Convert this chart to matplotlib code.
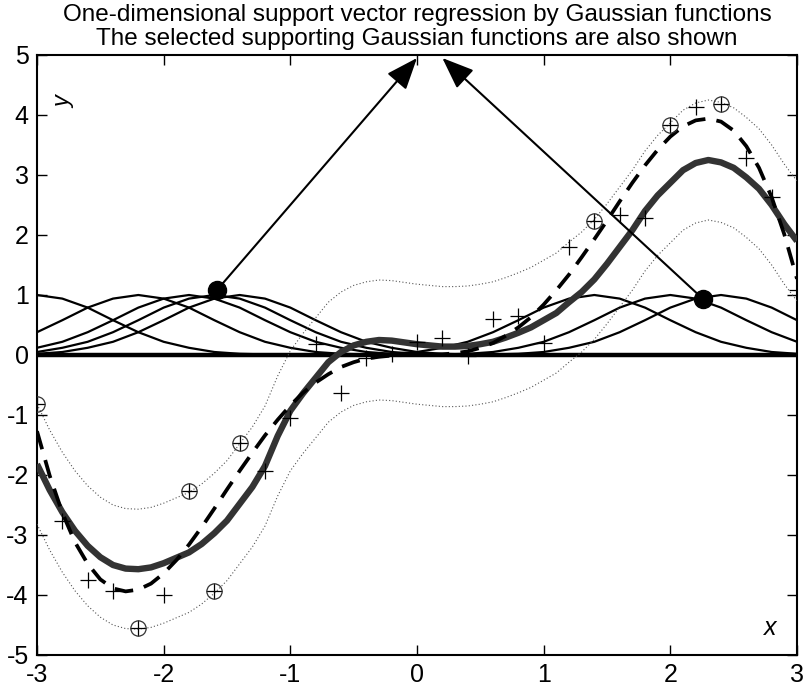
import numpy as np
import matplotlib
matplotlib.use("Agg")
import matplotlib.pyplot as plt

plt.rcParams['font.family'] = ['Liberation Sans', 'DejaVu Sans']
plt.rcParams['axes.unicode_minus'] = False

# sample grid used by the data points and the Gaussian curves
x_data = [-3.0, -2.8, -2.6, -2.4, -2.2, -2.0, -1.8, -1.6, -1.4, -1.2, -1.0,
          -0.8, -0.6, -0.4, -0.2, 0.0, 0.2, 0.4, 0.6, 0.8, 1.0,
          1.2, 1.4, 1.6, 1.8, 2.0, 2.2, 2.4, 2.6, 2.8, 3.0]
y_data = [-0.82, -2.76, -3.75, -3.94, -4.55, -4.00, -2.27, -3.94, -1.47, -1.93, -1.05,
          0.18, -0.64, -0.05, 0.02, 0.21, 0.29, -0.01, 0.60, 0.65, 0.20,
          1.80, 2.23, 2.33, 2.28, 3.84, 4.14, 4.19, 3.28, 2.64, 1.08]

# support vectors = centres of the selected Gaussians
sv_x = [-3.0, -2.2, -1.8, -1.6, -1.4, 1.4, 2.0, 2.4]
sv_y = [-0.82, -4.55, -2.27, -3.94, -1.47, 2.23, 3.84, 4.19]

# Gaussian profile read at offsets 0, 0.2, 0.4, ... from the centre
gauss_profile = [1.0, 0.94, 0.79, 0.58, 0.38, 0.22, 0.12, 0.05, 0.02, 0.01, 0.0]

# fine grid for the curves
x_fine = [round(-3.0 + 0.1 * i, 1) for i in range(61)]
y_true = [-1.27, -2.01, -2.63, -3.12, -3.48, -3.74, -3.89, -3.94, -3.91, -3.81,
          -3.64, -3.42, -3.16, -2.87, -2.56, -2.24, -1.93, -1.63, -1.34, -1.08,
          -0.84, -0.63, -0.46, -0.32, -0.20, -0.12, -0.06, -0.03, -0.01, 0.00,
          0.00, 0.00, 0.01, 0.03, 0.06, 0.12, 0.20, 0.32, 0.46, 0.63,
          0.84, 1.08, 1.34, 1.63, 1.93, 2.24, 2.56, 2.87, 3.16, 3.42,
          3.64, 3.81, 3.91, 3.94, 3.89, 3.74, 3.48, 3.12, 2.63, 2.01, 1.27]
y_reg = [-1.82, -2.25, -2.62, -2.93, -3.18, -3.37, -3.50, -3.56, -3.57, -3.54,
         -3.47, -3.38, -3.29, -3.15, -2.97, -2.76, -2.48, -2.20, -1.85, -1.35,
         -0.93, -0.64, -0.38, -0.12, 0.05, 0.16, 0.22, 0.25, 0.24, 0.21,
         0.18, 0.16, 0.14, 0.14, 0.15, 0.18, 0.22, 0.29, 0.37, 0.46,
         0.58, 0.70, 0.88, 1.05, 1.26, 1.52, 1.80, 2.08, 2.40, 2.66,
         2.87, 3.08, 3.20, 3.25, 3.21, 3.12, 2.96, 2.77, 2.50, 2.18, 1.90]
eps_tube = 1.0

# marked Gaussians and where their arrows point
dot_x = [-1.58, 2.26]
dot_y = [1.08, 0.93]
arrow_tip_x = [0.0, 0.2]
arrow_tip_y = [4.95, 4.95]

title1 = "One-dimensional support vector regression by Gaussian functions"
title2 = "The selected supporting Gaussian functions are also shown"

W, H = 809, 690
fig = plt.figure(figsize=(W / 100, H / 100), dpi=100)
ax = fig.add_axes([37 / W, (H - 655) / H, 760 / W, 600 / H])

# Gaussian basis curves on the 0.2 grid
for c in sv_x:
    g = []
    for xv in x_data:
        k = int(round(abs(xv - c) / 0.2))
        g.append(gauss_profile[k] if k < len(gauss_profile) else 0.0)
    ax.plot(x_data, g, color='k', lw=1.6, zorder=2)
ax.axhline(0, color='k', lw=3.2, zorder=2)

reg = np.array(y_reg)
ax.plot(x_fine, reg + eps_tube, color='#555555', lw=0.8, ls=(0, (1, 2)), zorder=3)
ax.plot(x_fine, reg - eps_tube, color='#555555', lw=0.8, ls=(0, (1, 2)), zorder=3)
ax.plot(x_fine, y_reg, color='#333333', lw=4.6, zorder=4, solid_capstyle='butt')
ax.plot(x_fine, y_true, color='k', lw=2.7, ls=(0, (5, 3)), zorder=5)

ax.plot(x_data, y_data, ls='none', marker='+', ms=11, mew=0.9, color='k', zorder=6)
ax.plot(sv_x, sv_y, ls='none', marker='o', ms=11, mfc='none', mew=0.9,
        mec='#333333', zorder=6)

ax.plot(dot_x, dot_y, ls='none', marker='o', ms=13, color='k', zorder=8)
for x0, y0, x1, y1 in zip(dot_x, dot_y, arrow_tip_x, arrow_tip_y):
    ax.annotate("", xy=(x1, y1), xytext=(x0, y0),
                arrowprops=dict(arrowstyle='-|>,head_length=1.4,head_width=0.55',
                                mutation_scale=14, color='k', lw=1.5,
                                shrinkA=0, shrinkB=0),
                annotation_clip=False, zorder=8)

ax.text(-2.79, 4.22, "y", style='italic', fontsize=17, rotation=90,
        ha='center', va='center')
ax.text(2.79, -4.55, "x", style='italic', fontsize=18, ha='center', va='center')

ax.set_xlim(-3, 3)
ax.set_ylim(-5, 5)
ax.set_xticks(range(-3, 4))
ax.set_yticks(range(-5, 6))
ax.tick_params(direction='in', top=True, right=True, length=7, width=1,
               labelsize=18, pad=6)
for s in ax.spines.values():
    s.set_linewidth(1.5)

fig.text(417 / W, 1 - 21 / H, title1, ha='center', va='baseline', fontsize=17.5)
fig.text(417 / W, 1 - 45 / H, title2, ha='center', va='baseline', fontsize=17.5)

fig.savefig("out.png", dpi=100)
